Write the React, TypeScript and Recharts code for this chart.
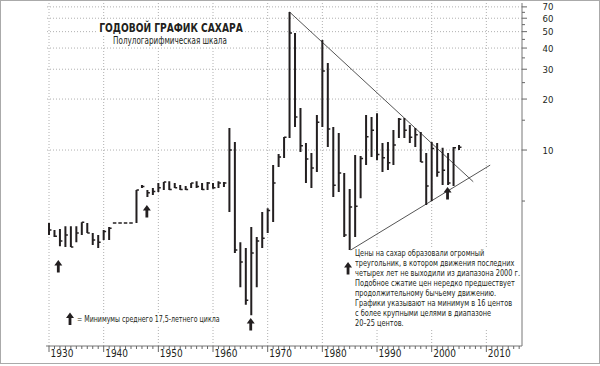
import React from 'react';
import { ComposedChart, Line, XAxis, YAxis, Scatter, ReferenceLine } from 'recharts';

const FONT = '"Liberation Sans Narrow", "Arial Narrow", "DejaVu Sans Condensed", sans-serif';
const INK = '#231f20';

// annual sugar prices, cents per lb
const years = [
  1930, 1931, 1932, 1933, 1934, 1935, 1936, 1937, 1938, 1939,
  1940, 1941, 1946, 1947, 1948, 1949,
  1950, 1951, 1952, 1953, 1954, 1955, 1956, 1957, 1958, 1959,
  1960, 1961, 1962, 1963, 1964, 1965, 1966, 1967, 1968, 1969,
  1970, 1971, 1972, 1973, 1974, 1975, 1976, 1977, 1978, 1979,
  1980, 1981, 1982, 1983, 1984, 1985, 1986, 1987, 1988, 1989,
  1990, 1991, 1992, 1993, 1994, 1995, 1996, 1997, 1998, 1999,
  2000, 2001, 2002, 2003, 2004, 2005,
];
const highs = [
  3.71, 3.37, 3.42, 3.55, 3.55, 3.55, 3.75, 3.71, 3.24, 3.15,
  3.37, 3.51, 5.8, 6.21, 5.8, 5.97,
  6.39, 6.48, 6.55, 6.39, 6.21, 6.13, 6.39, 6.55, 6.39, 6.48,
  6.39, 6.55, 6.48, 13.5, 11.15, 2.86, 2.64, 3.51, 3.07, 4.31,
  4.54, 8.15, 9.47, 11.93, 65.3, 49.1, 17.7, 11.0, 9.6, 16.1,
  44.6, 32.6, 13.67, 12.6, 7.31, 5.89, 9.34, 9.22, 16.1, 15.66,
  16.5, 11.0, 11.15, 13.12, 15.45, 15.45, 14.05, 13.49, 12.77, 9.6,
  11.15, 11.0, 10.3, 9.6, 10.41, 10.7,
];
const lows = [
  3.15, 3.07, 2.7, 2.68, 2.68, 2.86, 3.15, 3.24, 2.75, 2.64,
  2.94, 2.94, 3.71, 5.97, 5.28, 5.43,
  5.65, 5.8, 5.8, 5.97, 5.8, 5.8, 5.97, 5.97, 5.8, 5.8,
  5.9, 5.97, 6.05, 4.31, 2.47, 1.55, 1.22, 1.06, 1.55, 2.64,
  3.24, 3.76, 7.95, 8.97, 11.77, 13.67, 9.73, 6.39, 5.97, 7.41,
  13.67, 10.41, 5.28, 5.65, 3.07, 2.57, 3.07, 5.2, 8.15, 9.1,
  8.7, 7.41, 7.62, 8.15, 11.77, 11.77, 11.0, 10.41, 8.5, 4.73,
  5.0, 6.95, 6.21, 6.21, 6.13, 10.0,
];
const closes = [
  3.37, 3.1, 2.9, 3.15, 2.68, 3.24, 3.75, 3.24, 2.94, 2.86,
  3.3, 3.45, 5.8, 6.1, 5.6, 5.7,
  6.0, 6.48, 5.85, 6.0, 5.85, 5.85, 6.39, 6.1, 5.85, 6.4,
  6.0, 6.4, 6.4, 10.0, 2.57, 2.18, 1.3, 2.47, 2.9, 3.02,
  4.4, 6.4, 9.1, 11.9, 49.1, 15.66, 10.6, 8.84, 7.83, 14.6,
  29.3, 13.3, 6.2, 7.31, 3.15, 4.61, 4.66, 8.9, 12.0, 13.1,
  9.4, 9.0, 8.4, 10.7, 15.2, 13.1, 11.9, 12.3, 8.5, 6.13,
  10.2, 7.4, 7.6, 6.4, 10.3, 10.4,
];
// war-time fixed prices, drawn as short dashes
const flatYears = [1942, 1943, 1944, 1945];
const flatValues = [3.71, 3.71, 3.71, 3.71];

// cycle lows marked with arrows (tip position)
const arrowYears = [1931.7, 1947.9, 1966.9, 1984.7, 2002.9];
const arrowValues = [2.24, 4.73, 1.02, 2.18, 6.05];

// triangle trend lines
const upperTrend = [{ x: 1974, v: 65.3 }, { x: 2007.6, v: 6.5 }];
const lowerTrend = [{ x: 1985.2, v: 2.57 }, { x: 2010.7, v: 8.15 }];

const gridYears = [1930, 1940, 1950, 1960, 1970, 1980, 1990, 2000, 2010];
const gridPrices = [10, 20, 30, 40, 50, 60, 70];
const yLabels = [10, 20, 30, 40, 50, 60, 70];
const yTicks = [5, 10, 15, 20, 25, 30, 35, 40, 45, 50, 55, 60, 65, 70];

const noteLines = [
  'Цены на сахар образовали огромный',
  'треугольник, в котором движения последних',
  'четырех лет не выходили из диапазона 2000 г.',
  'Подобное сжатие цен нередко предшествует',
  'продолжительному бычьему движению.',
  'Графики указывают на минимум в 16 центов',
  'с более крупными целями в диапазоне',
  '20–25 центов.',
];

const TICK = 0.45;
const DASH = 0.32;

const xTicks: number[] = [];
for (let y = 1930; y <= 2016; y++) xTicks.push(y);

const rangeData = years.flatMap((yr, i) => [
  { x: yr, v: lows[i] },
  { x: yr, v: highs[i] },
  { x: yr, v: null },
]);
const closeData = years.flatMap((yr, i) => [
  { x: yr, v: closes[i] },
  { x: yr + TICK, v: closes[i] },
  { x: yr, v: null },
]);
const flatData = flatYears.flatMap((yr, i) => [
  { x: yr - DASH, v: flatValues[i] },
  { x: yr + DASH, v: flatValues[i] },
  { x: yr, v: null },
]);
const arrowData = arrowYears.map((yr, i) => ({ x: yr, v: arrowValues[i] }));

const Arrow = (props: any) => {
  const { cx, cy } = props;
  return <path d={`M${cx} ${cy} l4 5.5 h-2.6 v7 h-2.8 v-7 h-2.6 z`} fill={INK} />;
};

const XTick = (props: any) => {
  const { x, y, payload } = props;
  const major = payload.value % 10 === 0;
  return (
    <g>
      <line x1={x} x2={x} y1={y} y2={y + (major ? 6 : 3)} stroke="#666" />
      {major && (
        <text x={x + 1.5} y={y + 11} fontSize={10} fontFamily={FONT} fill={INK}>
          {payload.value}
        </text>
      )}
    </g>
  );
};

const YTick = (props: any) => {
  const { x, y, payload } = props;
  const major = yLabels.includes(payload.value);
  return (
    <g>
      <line x1={x} x2={x + (major ? 5 : 3)} y1={y} y2={y} stroke="#666" />
      {major && (
        <text x={x + 26} y={y + 3.5} textAnchor="middle" fontSize={9.5} fontFamily={FONT} fill={INK}>
          {payload.value}
        </text>
      )}
    </g>
  );
};

const squeeze = (k: number, origin = 'left top') => ({
  transform: `scaleX(${k})`,
  transformOrigin: origin,
  whiteSpace: 'nowrap' as const,
});

export default function App() {
  return (
    <div style={{ position: 'absolute', left: 0, top: 0, width: 600, height: 366, background: '#fff', fontFamily: FONT, color: INK }}>
      <ComposedChart width={600} height={366} margin={{ top: 3, right: 0, bottom: 0, left: 46 }}>
        <XAxis
          type="number"
          dataKey="x"
          domain={[1929.45, 2016.52]}
          allowDataOverflow
          ticks={xTicks}
          interval={0}
          tick={<XTick />}
          tickLine={false}
          tickSize={0}
          tickMargin={0}
          height={20}
          axisLine={{ stroke: '#777' }}
        />
        <YAxis
          type="number"
          orientation="right"
          scale="log"
          domain={[0.697, 73.8]}
          allowDataOverflow
          ticks={yTicks}
          interval={0}
          tick={<YTick />}
          tickLine={false}
          tickSize={0}
          tickMargin={0}
          width={78}
          axisLine={{ stroke: '#777' }}
        />
        {gridYears.map((yr) => (
          <ReferenceLine key={`gx${yr}`} x={yr} stroke="#b0b0b0" strokeDasharray="1 2" />
        ))}
        {gridPrices.map((p) => (
          <ReferenceLine key={`gy${p}`} y={p} stroke="#b0b0b0" strokeDasharray="1 2" />
        ))}
        <Line data={upperTrend} dataKey="v" stroke="#555" strokeWidth={1} dot={false} isAnimationActive={false} />
        <Line data={lowerTrend} dataKey="v" stroke="#555" strokeWidth={1} dot={false} isAnimationActive={false} />
        <Line data={rangeData} dataKey="v" stroke={INK} strokeWidth={2} dot={false} connectNulls={false} isAnimationActive={false} strokeLinecap="butt" />
        <Line data={closeData} dataKey="v" stroke={INK} strokeWidth={1.5} dot={false} connectNulls={false} isAnimationActive={false} strokeLinecap="butt" />
        <Line data={flatData} dataKey="v" stroke={INK} strokeWidth={1.5} dot={false} connectNulls={false} isAnimationActive={false} strokeLinecap="butt" />
        <Scatter data={arrowData} dataKey="v" shape={<Arrow />} isAnimationActive={false} />
      </ComposedChart>

      <div style={{ position: 'absolute', left: 171, top: 21, transform: 'translateX(-50%) scaleX(0.78)', background: '#fff', padding: '0 3px', fontSize: 13, fontWeight: 'bold', lineHeight: '13px', whiteSpace: 'nowrap' }}>
        ГОДОВОЙ ГРАФИК САХАРА
      </div>
      <div style={{ position: 'absolute', left: 170, top: 35, transform: 'translateX(-50%) scaleX(0.8)', background: '#fff', padding: '0 2px', fontSize: 10, lineHeight: '11px', whiteSpace: 'nowrap' }}>
        Полулогарифмическая шкала
      </div>

      <div style={{ position: 'absolute', left: 355, top: 248, width: 164, background: '#fff' }}>
        {noteLines.map((l) => (
          <div key={l} style={{ fontSize: 9, lineHeight: '10px', ...squeeze(0.81) }}>{l}</div>
        ))}
      </div>

      <svg style={{ position: 'absolute', left: 65, top: 312 }} width={10} height={13}>
        <path d="M5 0.5 l4 5.5 h-2.6 v7 h-2.8 v-7 h-2.6 z" fill={INK} />
      </svg>
      <div style={{ position: 'absolute', left: 77, top: 314, width: 142, background: '#fff', fontSize: 8.5, lineHeight: '11px' }}>
        <div style={squeeze(0.82)}>= Минимумы среднего 17,5-летнего цикла</div>
      </div>

      <div style={{ position: 'absolute', left: 0, top: 0, width: 600, height: 364, boxSizing: 'border-box', border: '1px solid #aaa', pointerEvents: 'none' }} />
    </div>
  );
}
